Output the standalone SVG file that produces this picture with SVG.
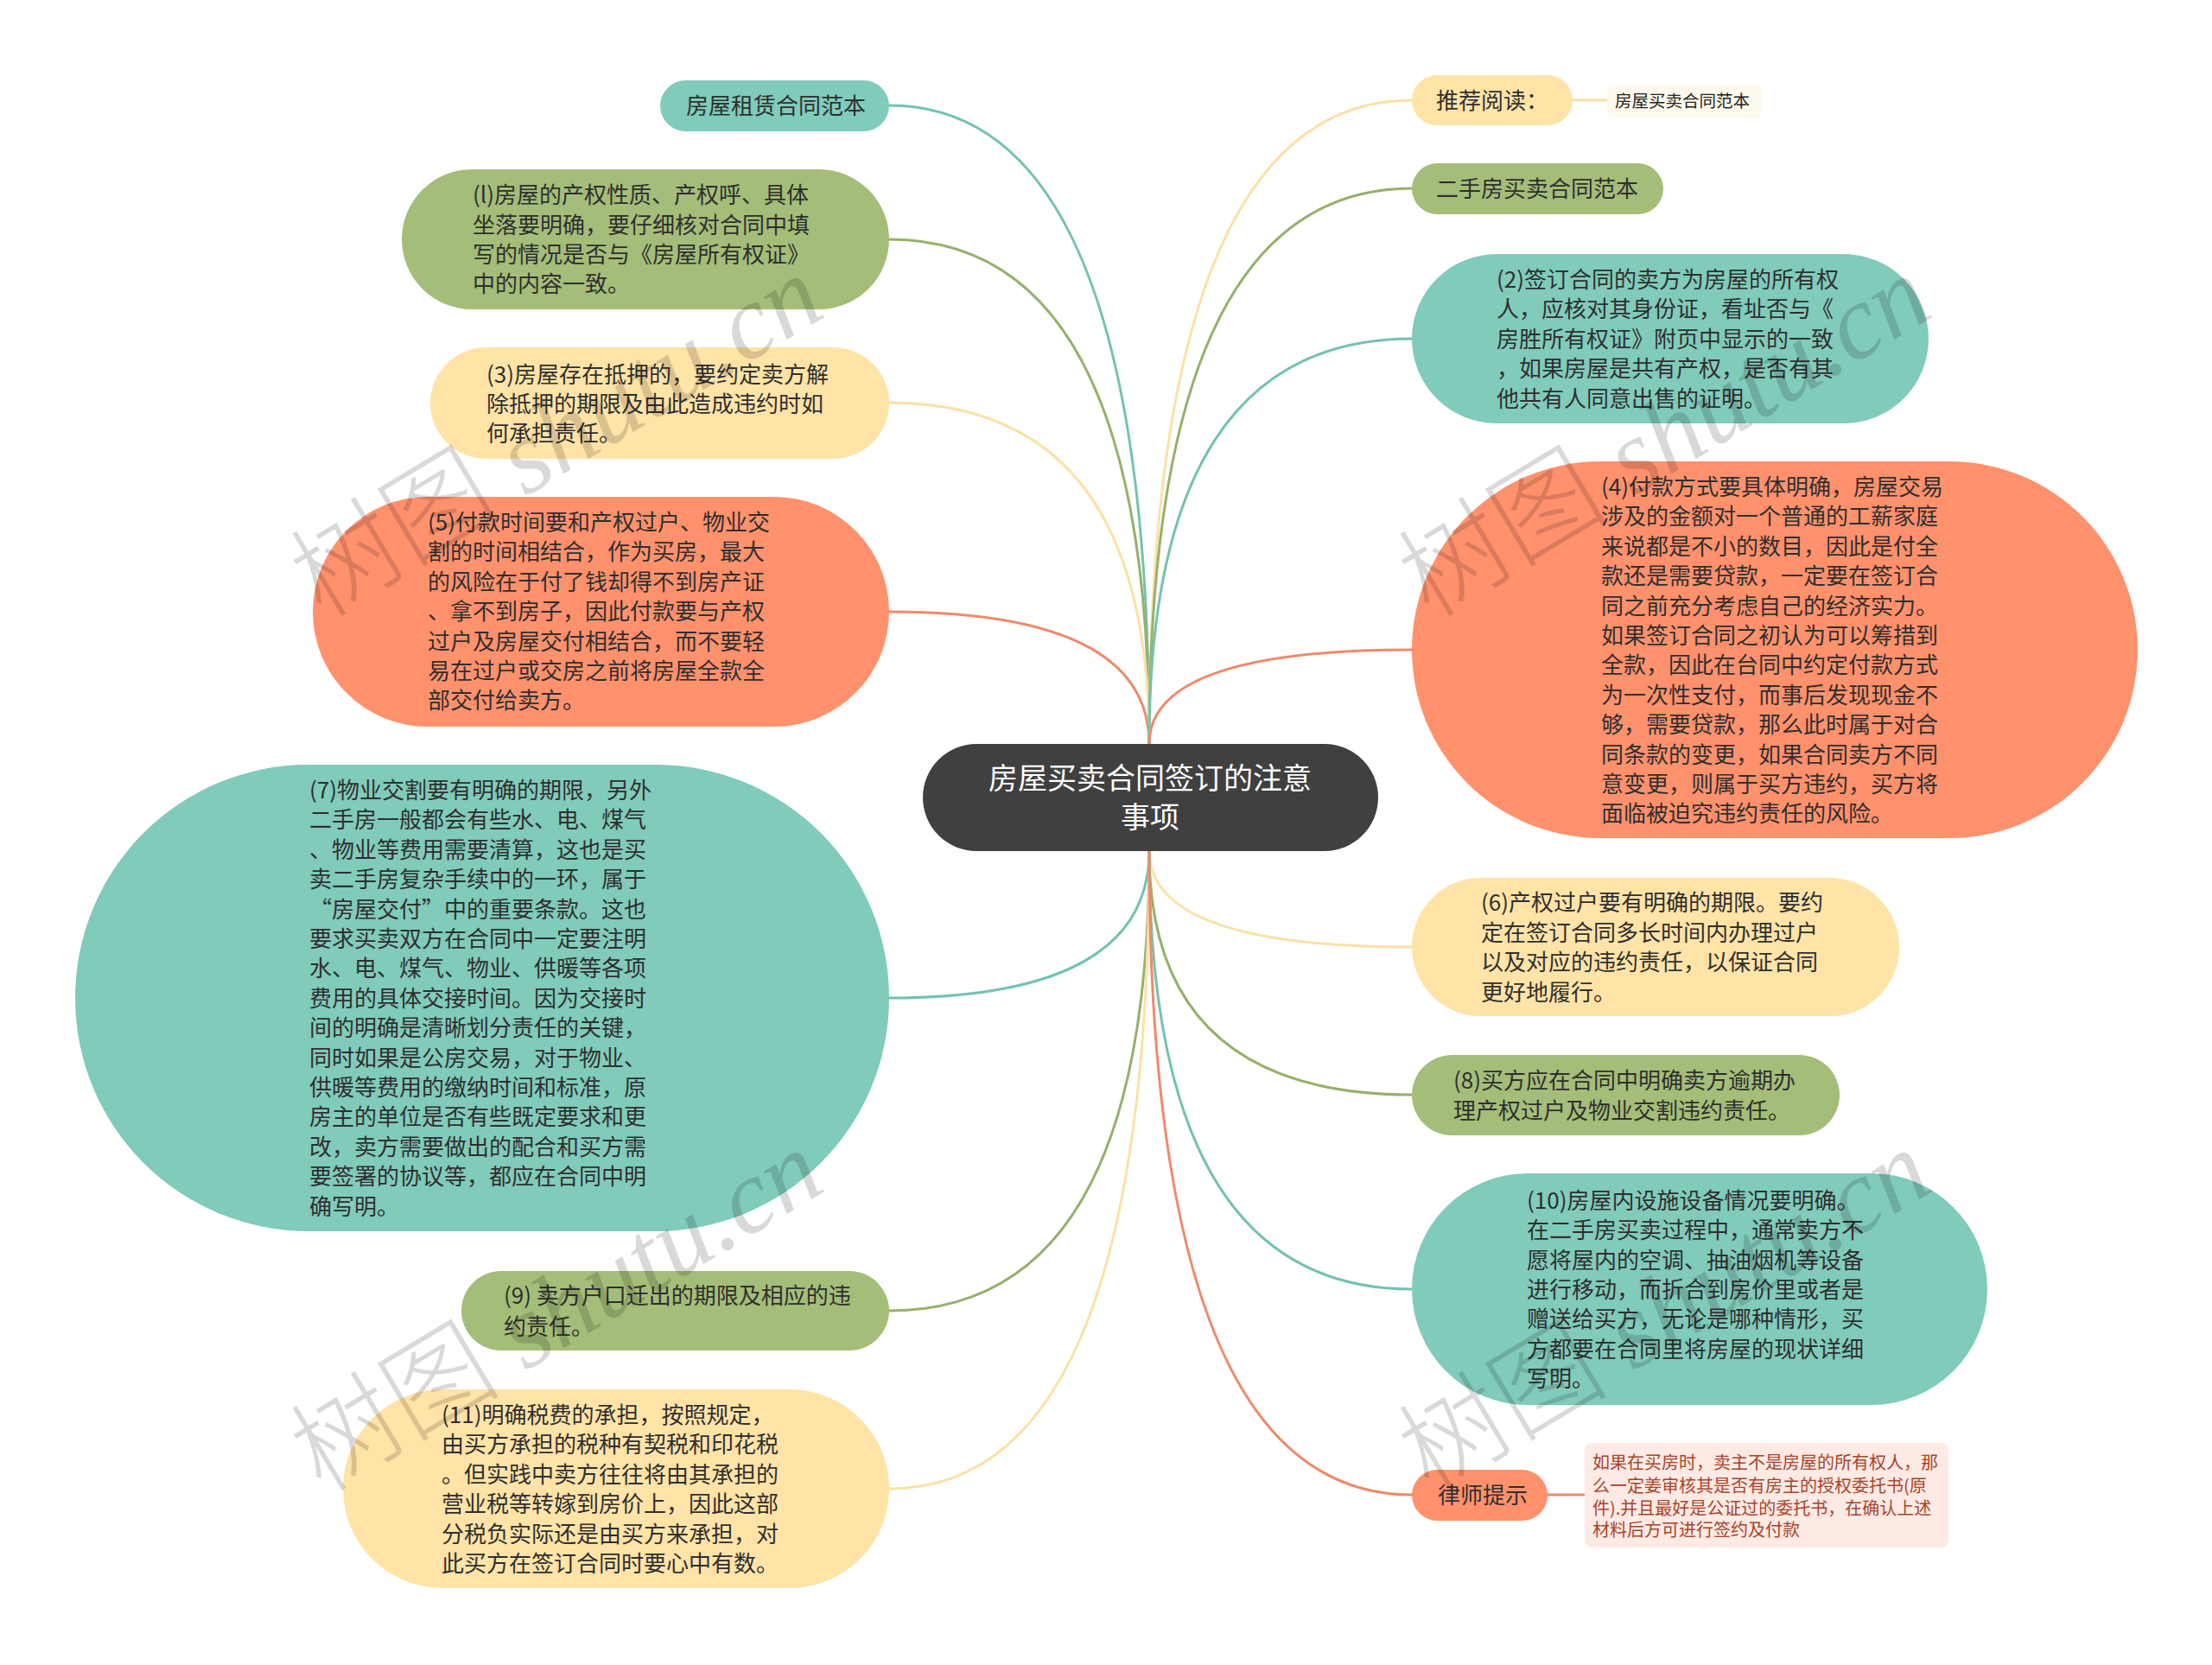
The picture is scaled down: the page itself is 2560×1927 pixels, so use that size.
<svg xmlns="http://www.w3.org/2000/svg" width="2560" height="1927" viewBox="0 0 2560 1927">
<style>
.t{font-family:"Noto Sans CJK SC","Noto Sans",sans-serif;font-size:26px;fill:#2f2f2f}
.teal{fill:#80CBBA}.green{fill:#A4BD78}.yellow{fill:#FFE3A7}.orange{fill:#FF916D}
.c{fill:none;stroke-width:3}
.ct{stroke:#74C2B2}.cg{stroke:#97B06B}.cy{stroke:#FBE1A6}.co{stroke:#F0896A}
.root{font-family:"Noto Sans CJK SC","Noto Sans",sans-serif;font-size:34px;fill:#ffffff;text-anchor:middle}
.small{font-family:"Noto Sans CJK SC","Noto Sans",sans-serif;font-size:19.5px;fill:#222}
.tip{font-family:"Noto Sans CJK SC","Noto Sans",sans-serif;font-size:20px;fill:#A9432A}
.wm{font-family:"Liberation Serif","Noto Sans CJK SC",serif;font-size:122px;fill:#000;fill-opacity:0.15;font-style:italic}
.wm .cj{font-family:"Noto Sans CJK SC",serif;font-style:normal;font-weight:300}
</style>
<rect width="2560" height="1927" fill="#ffffff"/>
<g id="connectors">
<path class="c ct" d="M1330 861 Q1330 122 1029 122"/>
<path class="c cg" d="M1330 861 Q1330 277 1029 277"/>
<path class="c cy" d="M1330 861 Q1330 466 1029 466"/>
<path class="c co" d="M1330 861 Q1330 708 1029 708"/>
<path class="c ct" d="M1330 985 Q1330 1155 1029 1155"/>
<path class="c cg" d="M1330 985 Q1330 1517 1029 1517"/>
<path class="c cy" d="M1330 985 Q1330 1723 1029 1723"/>
<path class="c cy" d="M1330 861 Q1330 116 1634 116"/>
<path class="c cg" d="M1330 861 Q1330 218 1634 218"/>
<path class="c ct" d="M1330 861 Q1330 392 1634 392"/>
<path class="c co" d="M1330 861 Q1330 752 1634 752"/>
<path class="c cy" d="M1330 985 Q1330 1096 1634 1096"/>
<path class="c cg" d="M1330 985 Q1330 1267 1634 1267"/>
<path class="c ct" d="M1330 985 Q1330 1492 1634 1492"/>
<path class="c co" d="M1330 985 Q1330 1730 1634 1730"/>
<path class="c cy" d="M1820 116 L1860 116"/>
<path class="c co" d="M1791 1730 L1834 1730"/>
</g>
<g id="root">
<rect x="1068" y="861" width="527" height="124" rx="62" fill="#404040"/>
<text class="root" x="1331" y="913">房屋买卖合同签订的注意</text>
<text class="root" x="1331" y="958">事项</text>
</g>
<g id="n-zulin">
<rect class="teal" x="764" y="93" width="265" height="59" rx="29.5"/>
<text class="t" x="794" y="132">房屋租赁合同范本</text>
</g>
<g id="n1">
<rect class="green" x="465" y="196" width="564" height="162" rx="81"/>
<text class="t" x="547" y="235">(l)房屋的产权性质、产权呼、具体</text>
<text class="t" x="547" y="270">坐落要明确，要仔细核对合同中填</text>
<text class="t" x="547" y="304">写的情况是否与《房屋所有权证》</text>
<text class="t" x="547" y="338">中的内容一致。</text>
</g>
<g id="n3">
<rect class="yellow" x="498" y="402" width="531" height="129" rx="64.5"/>
<text class="t" x="563" y="443">(3)房屋存在抵押的，要约定卖方解</text>
<text class="t" x="563" y="477">除抵押的期限及由此造成违约时如</text>
<text class="t" x="563" y="511">何承担责任。</text>
</g>
<g id="n5">
<rect class="orange" x="362" y="575" width="667" height="266" rx="133"/>
<text class="t" x="495" y="614">(5)付款时间要和产权过户、物业交</text>
<text class="t" x="495" y="648">割的时间相结合，作为买房，最大</text>
<text class="t" x="495" y="683">的风险在于付了钱却得不到房产证</text>
<text class="t" x="495" y="717">、拿不到房子，因此付款要与产权</text>
<text class="t" x="495" y="752">过户及房屋交付相结合，而不要轻</text>
<text class="t" x="495" y="786">易在过户或交房之前将房屋全款全</text>
<text class="t" x="495" y="820">部交付给卖方。</text>
</g>
<g id="n7">
<rect class="teal" x="87" y="885" width="942" height="540" rx="270"/>
<text class="t" x="358" y="924">(7)物业交割要有明确的期限，另外</text>
<text class="t" x="358" y="958">二手房一般都会有些水、电、煤气</text>
<text class="t" x="358" y="993">、物业等费用需要清算，这也是买</text>
<text class="t" x="358" y="1027">卖二手房复杂手续中的一环，属于</text>
<text class="t" x="358" y="1062">“房屋交付”中的重要条款。这也</text>
<text class="t" x="358" y="1096">要求买卖双方在合同中一定要注明</text>
<text class="t" x="358" y="1130">水、电、煤气、物业、供暖等各项</text>
<text class="t" x="358" y="1165">费用的具体交接时间。因为交接时</text>
<text class="t" x="358" y="1199">间的明确是清晰划分责任的关键，</text>
<text class="t" x="358" y="1234">同时如果是公房交易，对于物业、</text>
<text class="t" x="358" y="1268">供暖等费用的缴纳时间和标准，原</text>
<text class="t" x="358" y="1302">房主的单位是否有些既定要求和更</text>
<text class="t" x="358" y="1337">改，卖方需要做出的配合和买方需</text>
<text class="t" x="358" y="1371">要签署的协议等，都应在合同中明</text>
<text class="t" x="358" y="1406">确写明。</text>
</g>
<g id="n9">
<rect class="green" x="534" y="1471" width="495" height="92" rx="46"/>
<text class="t" x="583" y="1509">(9) 卖方户口迁出的期限及相应的违</text>
<text class="t" x="583" y="1545">约责任。</text>
</g>
<g id="n11">
<rect class="yellow" x="397" y="1608" width="632" height="230" rx="115"/>
<text class="t" x="511" y="1647">(11)明确税费的承担，按照规定，</text>
<text class="t" x="511" y="1681">由买方承担的税种有契税和印花税</text>
<text class="t" x="511" y="1716">。但实践中卖方往往将由其承担的</text>
<text class="t" x="511" y="1750">营业税等转嫁到房价上，因此这部</text>
<text class="t" x="511" y="1785">分税负实际还是由买方来承担，对</text>
<text class="t" x="511" y="1819">此买方在签订合同时要心中有数。</text>
</g>
<g id="n-tuijian">
<rect class="yellow" x="1634" y="87" width="186" height="58" rx="29"/>
<text class="t" x="1662" y="126">推荐阅读：</text>
</g>
<g id="n-tuijian-sub">
<rect x="1860" y="98" width="179" height="39" rx="8" fill="#FDF9EC"/>
<text class="small" x="1869" y="124">房屋买卖合同范本</text>
</g>
<g id="n-ershou">
<rect class="green" x="1634" y="189" width="291" height="59" rx="29.5"/>
<text class="t" x="1662" y="228">二手房买卖合同范本</text>
</g>
<g id="n2">
<rect class="teal" x="1634" y="294" width="598" height="196" rx="98"/>
<text class="t" x="1732" y="333">(2)签订合同的卖方为房屋的所有权</text>
<text class="t" x="1732" y="367">人，应核对其身份证，看址否与《</text>
<text class="t" x="1732" y="402">房胜所有权证》附页中显示的一致</text>
<text class="t" x="1732" y="436">，如果房屋是共有产权，是否有其</text>
<text class="t" x="1732" y="471">他共有人同意出售的证明。</text>
</g>
<g id="n4">
<rect class="orange" x="1634" y="534" width="840" height="436" rx="218"/>
<text class="t" x="1853" y="573">(4)付款方式要具体明确，房屋交易</text>
<text class="t" x="1853" y="607">涉及的金额对一个普通的工薪家庭</text>
<text class="t" x="1853" y="642">来说都是不小的数目，因此是付全</text>
<text class="t" x="1853" y="676">款还是需要贷款，一定要在签订合</text>
<text class="t" x="1853" y="711">同之前充分考虑自己的经济实力。</text>
<text class="t" x="1853" y="745">如果签订合同之初认为可以筹措到</text>
<text class="t" x="1853" y="779">全款，因此在台同中约定付款方式</text>
<text class="t" x="1853" y="814">为一次性支付，而事后发现现金不</text>
<text class="t" x="1853" y="848">够，需要贷款，那么此时属于对合</text>
<text class="t" x="1853" y="883">同条款的变更，如果合同卖方不同</text>
<text class="t" x="1853" y="917">意变更，则属于买方违约，买方将</text>
<text class="t" x="1853" y="951">面临被迫究违约责任的风险。</text>
</g>
<g id="n6">
<rect class="yellow" x="1634" y="1016" width="564" height="160" rx="80"/>
<text class="t" x="1714" y="1054">(6)产权过户要有明确的期限。要约</text>
<text class="t" x="1714" y="1089">定在签订合同多长时间内办理过户</text>
<text class="t" x="1714" y="1123">以及对应的违约责任，以保证合同</text>
<text class="t" x="1714" y="1158">更好地履行。</text>
</g>
<g id="n8">
<rect class="green" x="1634" y="1221" width="495" height="93" rx="46.5"/>
<text class="t" x="1682" y="1260">(8)买方应在合同中明确卖方逾期办</text>
<text class="t" x="1682" y="1295">理产权过户及物业交割违约责任。</text>
</g>
<g id="n10">
<rect class="teal" x="1634" y="1358" width="666" height="268" rx="134"/>
<text class="t" x="1767" y="1399">(10)房屋内设施设备情况要明确。</text>
<text class="t" x="1767" y="1433">在二手房买卖过程中，通常卖方不</text>
<text class="t" x="1767" y="1468">愿将屋内的空调、抽油烟机等设备</text>
<text class="t" x="1767" y="1502">进行移动，而折合到房价里或者是</text>
<text class="t" x="1767" y="1536">赠送给买方，无论是哪种情形，买</text>
<text class="t" x="1767" y="1571">方都要在合同里将房屋的现状详细</text>
<text class="t" x="1767" y="1605">写明。</text>
</g>
<g id="n-lawyer">
<rect class="orange" x="1634" y="1701" width="157" height="59" rx="29.5"/>
<text class="t" x="1664" y="1740">律师提示</text>
</g>
<g id="n-lawyer-sub">
<rect x="1834" y="1670" width="421" height="121" rx="8" fill="#FDEAE4"/>
<text class="tip" x="1843" y="1700">如果在买房时，卖主不是房屋的所有权人，那</text>
<text class="tip" x="1843" y="1727">么一定姜审核其是否有房主的授权委托书(原</text>
<text class="tip" x="1843" y="1753">件).并且最好是公证过的委托书，在确认上述</text>
<text class="tip" x="1843" y="1778">材料后方可进行签约及付款</text>
</g>
<g id="watermarks">
<text class="wm" transform="translate(645 506) rotate(-31)" text-anchor="middle" y="40"><tspan class="cj">树图</tspan> shutu.cn</text>
<text class="wm" transform="translate(1927 506) rotate(-31)" text-anchor="middle" y="40"><tspan class="cj">树图</tspan> shutu.cn</text>
<text class="wm" transform="translate(645 1518) rotate(-31)" text-anchor="middle" y="40"><tspan class="cj">树图</tspan> shutu.cn</text>
<text class="wm" transform="translate(1927 1518) rotate(-31)" text-anchor="middle" y="40"><tspan class="cj">树图</tspan> shutu.cn</text>
</g>
</svg>
